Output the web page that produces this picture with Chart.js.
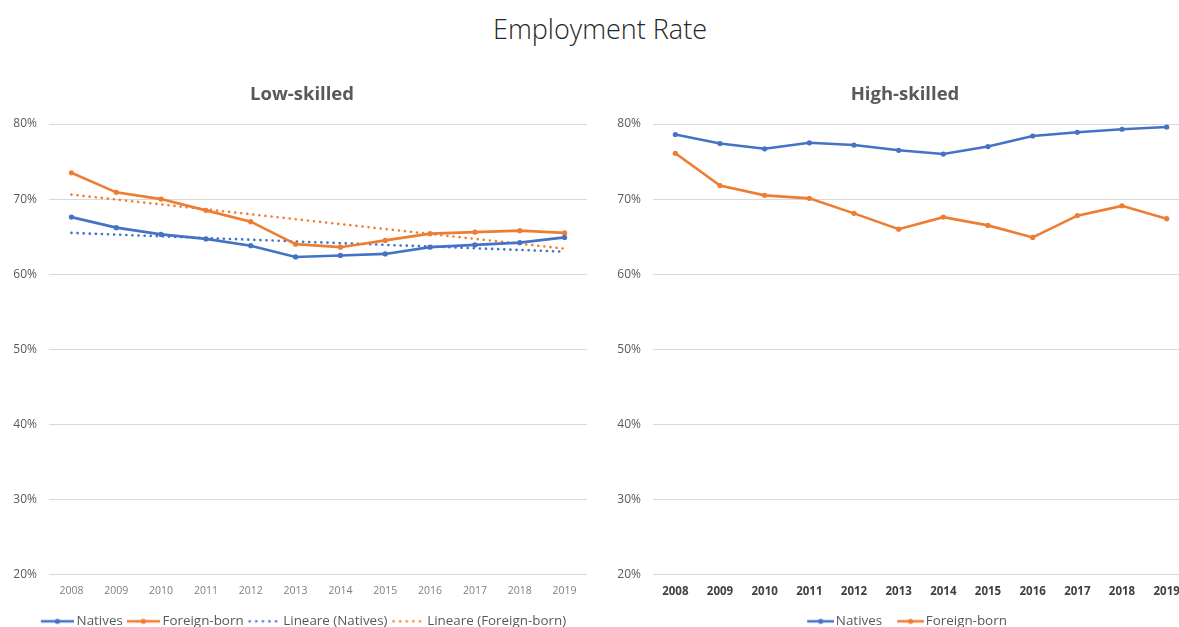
<!DOCTYPE html>
<html>
<head>
<meta charset="utf-8">
<script src="https://cdn.jsdelivr.net/npm/chart.js@4"></script>
<style>
  html, body { margin: 0; padding: 0; background: #fff; width: 1179px; height: 627px; overflow: hidden; position: relative; }
  #title { position: absolute; left: 0; top: 11px; width: 1200px; text-align: center; font-family: "Open Sans", sans-serif; font-weight: 300; font-size: 27px; color: #262626; line-height: 36px; }
  .box { position: absolute; top: 0; height: 638px; }
  #leftBox { left: 0; width: 606px; }
  #rightBox { left: 605px; width: 600px; }
</style>
</head>
<body>
<div id="title">Employment Rate</div>
<div class="box" id="leftBox"><canvas id="left"></canvas></div>
<div class="box" id="rightBox"><canvas id="right"></canvas></div>
<script>
// ---- data (percent) ----
const years = ['2008','2009','2010','2011','2012','2013','2014','2015','2016','2017','2018','2019'];
const yTicks = [20, 30, 40, 50, 60, 70, 80];

const lowNatives     = [67.6, 66.2, 65.3, 64.7, 63.8, 62.3, 62.5, 62.7, 63.6, 63.9, 64.2, 64.9];
const lowForeign     = [73.5, 70.9, 70.0, 68.5, 67.0, 64.0, 63.6, 64.5, 65.4, 65.6, 65.8, 65.5];
const lowTrendYears  = ['2008', '2019'];
const lowNativesTrend = [65.5, 63.0];
const lowForeignTrend = [70.6, 63.4];

const highNatives    = [78.6, 77.4, 76.7, 77.5, 77.2, 76.5, 76.0, 77.0, 78.4, 78.9, 79.3, 79.6];
const highForeign    = [76.1, 71.8, 70.5, 70.1, 68.1, 66.0, 67.6, 66.5, 64.9, 67.8, 69.1, 67.4];

const BLUE = '#4472C4', ORANGE = '#ED7D31';
const FONT = '"Open Sans", sans-serif';

// legend icon: line of length len, the item box being bw wide (icon centered on box)
function legendIcon(color, dotted, len, bw) {
  const w = Math.round(2 * len - bw);
  const c = document.createElement('canvas');
  c.width = w; c.height = 8;
  const g = c.getContext('2d');
  const x0 = w - len;
  g.strokeStyle = color; g.fillStyle = color; g.lineWidth = 2.5;
  if (dotted) {
    g.lineCap = 'round'; g.setLineDash([0.1, 6.5]);
    g.beginPath(); g.moveTo(x0 + 2, 4); g.lineTo(w - 1, 4); g.stroke();
  } else {
    g.beginPath(); g.moveTo(x0, 4); g.lineTo(w, 4); g.stroke();
    g.beginPath(); g.arc(x0 + len / 2, 4, 2.6, 0, Math.PI * 2); g.fill();
  }
  return c;
}

function makeChart(id, title, datasets, icons, opts) {
  const ctx = document.getElementById(id);
  const shiftPlugin = {
    id: 'shift',
    afterLayout(chart) {
      if (chart.titleBlock) { chart.titleBlock.left += opts.titleShift; chart.titleBlock.right += opts.titleShift; }
      if (chart.legend) { chart.legend.left += opts.legendShift; chart.legend.right += opts.legendShift; }
    }
  };
  return new Chart(ctx, {
    type: 'line',
    data: { labels: years, datasets },
    plugins: [shiftPlugin],
    options: {
      responsive: true,
      maintainAspectRatio: false,
      animation: false,
      layout: { padding: { left: opts.padLeft, right: opts.padRight, top: 0, bottom: 0 } },
      plugins: {
        tooltip: { enabled: false },
        title: {
          display: true, text: title, color: '#595959',
          font: { family: FONT, size: 18.5, weight: 'bold' },
          padding: { top: 83.9, bottom: 17.9 }
        },
        legend: {
          position: 'bottom',
          labels: {
            color: '#595959',
            font: { family: FONT, size: 13.4 },
            usePointStyle: true,
            pointStyleWidth: opts.boxW,
            padding: opts.legendPad,
            generateLabels(chart) {
              const items = Chart.defaults.plugins.legend.labels.generateLabels(chart);
              items.forEach(it => { it.pointStyle = icons[it.datasetIndex]; });
              return items;
            }
          }
        }
      },
      scales: {
        x: {
          type: 'category',
          offset: true,
          grid: { display: false, drawTicks: false },
          border: { display: false },
          ticks: { color: opts.xColor, font: { family: FONT, size: opts.xSize, weight: opts.xWeight }, padding: 10, maxRotation: 0, autoSkip: false },
          afterFit(s) { s.height = opts.xHeight; }
        },
        y: {
          min: 20, max: 80,
          afterBuildTicks(s) { s.ticks = yTicks.map(v => ({ value: v })); },
          grid: { color: '#d9d9d9', lineWidth: 1, drawTicks: false },
          border: { display: false },
          ticks: { color: '#595959', font: { family: FONT, size: 12 }, padding: 12, callback: v => v + '%' },
          afterFit(s) { s.width = 38; }
        }
      },
      elements: { line: { tension: 0 } }
    }
  });
}

function series(label, data, color) {
  return { label, data, borderColor: color, backgroundColor: color, borderWidth: 2.6,
           pointRadius: 2.6, pointHoverRadius: 2.6, pointBorderWidth: 0, pointBackgroundColor: color };
}
function trend(label, ys, color) {
  return { label, data: lowTrendYears.map((x, i) => ({ x, y: ys[i] })), borderColor: color, backgroundColor: color,
           borderWidth: 2.6, borderDash: [0.1, 6], borderCapStyle: 'round', pointRadius: 0, pointHoverRadius: 0 };
}

const LBW = 29, RBW = 22;
makeChart('left', 'Low-skilled', [
  series('Natives', lowNatives, BLUE),
  series('Foreign-born', lowForeign, ORANGE),
  trend('Lineare (Natives)', lowNativesTrend, BLUE),
  trend('Lineare (Foreign-born)', lowForeignTrend, ORANGE)
], [legendIcon(BLUE, false, 33, LBW), legendIcon(ORANGE, false, 33, LBW), legendIcon(BLUE, true, 33, LBW), legendIcon(ORANGE, true, 33, LBW)],
 { padLeft: 11, padRight: 19, xColor: '#7f7f7f', xWeight: 'normal', xSize: 10.5, legendPad: 4, xHeight: 36,
   boxW: LBW, titleShift: 3, legendShift: 4.5 });

makeChart('right', 'High-skilled', [
  series('Natives', highNatives, BLUE),
  series('Foreign-born', highForeign, ORANGE)
], [legendIcon(BLUE, false, 27, RBW), legendIcon(ORANGE, false, 27, RBW)],
 { padLeft: 10, padRight: 16, xColor: '#404040', xWeight: 'bold', xSize: 11.5, legendPad: 15, xHeight: 25,
   boxW: RBW, titleShift: 3, legendShift: 5 });
</script>
</body>
</html>
